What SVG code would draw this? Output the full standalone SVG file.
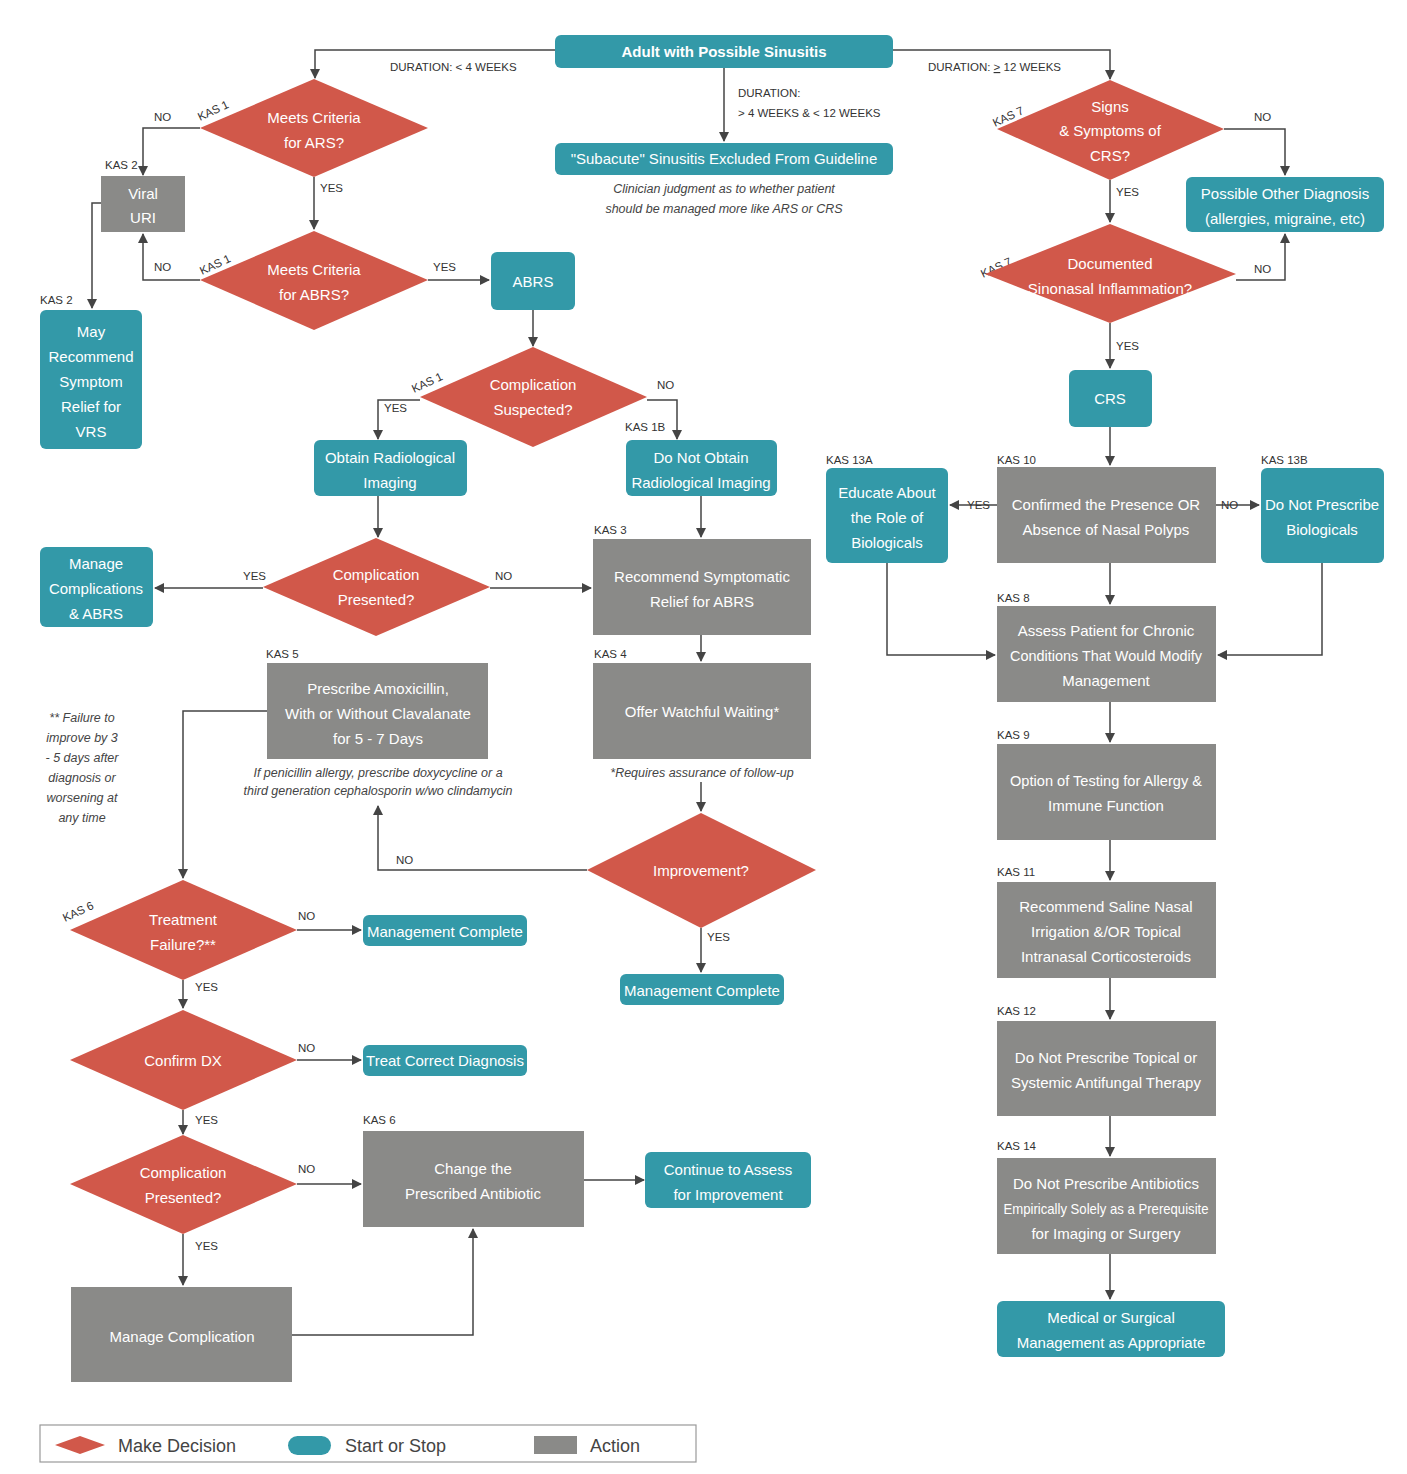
<svg xmlns="http://www.w3.org/2000/svg" width="1407" height="1474" viewBox="0 0 1407 1474">
<defs>
<marker id="ah" markerWidth="10" markerHeight="10" refX="9" refY="5" orient="auto" markerUnits="userSpaceOnUse"><path d="M0,0 L10,5 L0,10 Z" fill="#444"/></marker>
<style>
.d{fill:#d1584a}.t{fill:#3399a8}.g{fill:#8a8a88}
.nt{font-family:"Liberation Sans",Arial,sans-serif;font-size:15px;fill:#fff;text-anchor:middle}
.lb{font-family:"Liberation Sans",Arial,sans-serif;font-size:11.5px;fill:#333}
.it{font-family:"Liberation Sans",Arial,sans-serif;font-size:12.5px;fill:#444;font-style:italic;text-anchor:middle}
.c{fill:none;stroke:#444;stroke-width:1.5;marker-end:url(#ah)}
.lg{font-family:"Liberation Sans",Arial,sans-serif;font-size:18px;fill:#444}
</style>
</defs>
<rect width="1407" height="1474" fill="#fff"/>
<g id="connectors">
<path class="c" d="M555,50 H315 V78"/>
<path class="c" d="M893,50 H1110 V79"/>
<path class="c" d="M724,68 V141"/>
<path class="c" d="M200,128 H143 V175"/>
<path class="c" d="M314,177 V229"/>
<path class="c" d="M200,280 H143 V234"/>
<path class="c" d="M428,280 H489"/>
<path class="c" d="M101,203 H92 V308"/>
<path class="c" d="M533,310 V346"/>
<path class="c" d="M420,400 H378 V439"/>
<path class="c" d="M647,400 H677 V439"/>
<path class="c" d="M378,496 V537"/>
<path class="c" d="M263,588 H155"/>
<path class="c" d="M490,588 H591"/>
<path class="c" d="M701,496 V537"/>
<path class="c" d="M701,635 V661"/>
<path class="c" d="M701,782 V811"/>
<path class="c" d="M587,870 H378 V806"/>
<path class="c" d="M701,928 V972"/>
<path class="c" d="M267,711 H183 V878"/>
<path class="c" d="M297,930 H361"/>
<path class="c" d="M183,980 V1008"/>
<path class="c" d="M297,1060 H361"/>
<path class="c" d="M183,1110 V1134"/>
<path class="c" d="M297,1184 H361"/>
<path class="c" d="M584,1180 H644"/>
<path class="c" d="M183,1234 V1285"/>
<path class="c" d="M292,1335 H473 V1229"/>
<path class="c" d="M1224,129 H1285 V175"/>
<path class="c" d="M1110,180 V222"/>
<path class="c" d="M1236,280 H1285 V234"/>
<path class="c" d="M1110,323 V368"/>
<path class="c" d="M1110,427 V465"/>
<path class="c" d="M997,505 H950"/>
<path class="c" d="M1216,505 H1259"/>
<path class="c" d="M1110,563 V604"/>
<path class="c" d="M887,563 V655 H995"/>
<path class="c" d="M1322,563 V655 H1218"/>
<path class="c" d="M1110,702 V742"/>
<path class="c" d="M1110,840 V880"/>
<path class="c" d="M1110,978 V1019"/>
<path class="c" d="M1110,1116 V1156"/>
<path class="c" d="M1110,1254 V1299"/>
</g>
<g id="labels">
<text class="lb" x="390" y="71">DURATION: &lt; 4 WEEKS</text>
<text class="lb" x="928" y="71">DURATION: <tspan text-decoration="underline">&gt;</tspan> 12 WEEKS</text>
<text class="lb" x="738" y="97">DURATION:</text>
<text class="lb" x="738" y="117">&gt; 4 WEEKS &amp; &lt; 12 WEEKS</text>
<text class="lb" x="154" y="121">NO</text>
<text class="lb" x="200" y="121" transform="rotate(-25 200 121)">KAS 1</text>
<text class="lb" x="105" y="169">KAS 2</text>
<text class="lb" x="320" y="192">YES</text>
<text class="lb" x="154" y="271">NO</text>
<text class="lb" x="202" y="275" transform="rotate(-25 202 275)">KAS 1</text>
<text class="lb" x="433" y="271">YES</text>
<text class="lb" x="40" y="304">KAS 2</text>
<text class="lb" x="414" y="393" transform="rotate(-25 414 393)">KAS 1</text>
<text class="lb" x="384" y="412">YES</text>
<text class="lb" x="657" y="389">NO</text>
<text class="lb" x="625" y="431">KAS 1B</text>
<text class="lb" x="243" y="580">YES</text>
<text class="lb" x="495" y="580">NO</text>
<text class="lb" x="594" y="534">KAS 3</text>
<text class="lb" x="594" y="658">KAS 4</text>
<text class="lb" x="266" y="658">KAS 5</text>
<text class="lb" x="396" y="864">NO</text>
<text class="lb" x="707" y="941">YES</text>
<text class="lb" x="65" y="922" transform="rotate(-25 65 922)">KAS 6</text>
<text class="lb" x="298" y="920">NO</text>
<text class="lb" x="195" y="991">YES</text>
<text class="lb" x="298" y="1052">NO</text>
<text class="lb" x="195" y="1124">YES</text>
<text class="lb" x="298" y="1173">NO</text>
<text class="lb" x="363" y="1124">KAS 6</text>
<text class="lb" x="195" y="1250">YES</text>
<text class="lb" x="995" y="127" transform="rotate(-25 995 127)">KAS 7</text>
<text class="lb" x="1254" y="121">NO</text>
<text class="lb" x="1116" y="196">YES</text>
<text class="lb" x="983" y="278" transform="rotate(-25 983 278)">KAS 7</text>
<text class="lb" x="1254" y="273">NO</text>
<text class="lb" x="1116" y="350">YES</text>
<text class="lb" x="997" y="464">KAS 10</text>
<text class="lb" x="826" y="464">KAS 13A</text>
<text class="lb" x="1261" y="464">KAS 13B</text>
<text class="lb" x="967" y="509">YES</text>
<text class="lb" x="1221" y="509">NO</text>
<text class="lb" x="997" y="602">KAS 8</text>
<text class="lb" x="997" y="739">KAS 9</text>
<text class="lb" x="997" y="876">KAS 11</text>
<text class="lb" x="997" y="1015">KAS 12</text>
<text class="lb" x="997" y="1150">KAS 14</text>
<text class="it" x="724" y="193">Clinician judgment as to whether patient</text>
<text class="it" x="724" y="213">should be managed more like ARS or CRS</text>
<text class="it" x="702" y="777">*Requires assurance of follow-up</text>
<text class="it" x="378" y="777">If penicillin allergy, prescribe doxycycline or a</text>
<text class="it" x="378" y="795">third generation cephalosporin w/wo clindamycin</text>
<text class="it" x="82" y="722">** Failure to</text>
<text class="it" x="82" y="742">improve by 3</text>
<text class="it" x="82" y="762">- 5 days after</text>
<text class="it" x="82" y="782">diagnosis or</text>
<text class="it" x="82" y="802">worsening at</text>
<text class="it" x="82" y="822">any time</text>
</g>
<g id="start"><rect class="t" x="555" y="35" width="338" height="33" rx="6"/><text class="nt" x="724" y="57" font-weight="bold">Adult with Possible Sinusitis</text></g>
<g id="subacute"><rect class="t" x="555" y="143" width="338" height="32" rx="6"/><text class="nt" x="724" y="164">"Subacute" Sinusitis Excluded From Guideline</text></g>
<g id="ars"><polygon class="d" points="314,79 428,128 314,177 200,128"/><text class="nt" x="314" y="123">Meets Criteria</text><text class="nt" x="314" y="148">for ARS?</text></g>
<g id="viraluri"><rect class="g" x="101" y="176" width="84" height="56"/><text class="nt" x="143" y="199">Viral</text><text class="nt" x="143" y="223">URI</text></g>
<g id="abrsq"><polygon class="d" points="314,231 428,280 314,330 200,280"/><text class="nt" x="314" y="275">Meets Criteria</text><text class="nt" x="314" y="300">for ABRS?</text></g>
<g id="mayrec"><rect class="t" x="40" y="310" width="102" height="139" rx="6"/><text class="nt" x="91" y="337">May</text><text class="nt" x="91" y="362">Recommend</text><text class="nt" x="91" y="387">Symptom</text><text class="nt" x="91" y="412">Relief for</text><text class="nt" x="91" y="437">VRS</text></g>
<g id="abrs"><rect class="t" x="491" y="252" width="84" height="58" rx="6"/><text class="nt" x="533" y="287">ABRS</text></g>
<g id="compsusp"><polygon class="d" points="533,347 647,397 533,447 420,397"/><text class="nt" x="533" y="390">Complication</text><text class="nt" x="533" y="415">Suspected?</text></g>
<g id="obtain"><rect class="t" x="314" y="440" width="153" height="56" rx="6"/><text class="nt" x="390" y="463">Obtain Radiological</text><text class="nt" x="390" y="488">Imaging</text></g>
<g id="donotobtain"><rect class="t" x="626" y="440" width="151" height="56" rx="6"/><text class="nt" x="701" y="463">Do Not Obtain</text><text class="nt" x="701" y="488">Radiological Imaging</text></g>
<g id="comppres1"><polygon class="d" points="376,538 490,587 376,636 263,587"/><text class="nt" x="376" y="580">Complication</text><text class="nt" x="376" y="605">Presented?</text></g>
<g id="managecomp"><rect class="t" x="40" y="547" width="113" height="80" rx="6"/><text class="nt" x="96" y="569">Manage</text><text class="nt" x="96" y="594">Complications</text><text class="nt" x="96" y="619">&amp; ABRS</text></g>
<g id="recsymp"><rect class="g" x="593" y="539" width="218" height="96"/><text class="nt" x="702" y="582">Recommend Symptomatic</text><text class="nt" x="702" y="607">Relief for ABRS</text></g>
<g id="watchful"><rect class="g" x="593" y="663" width="218" height="96"/><text class="nt" x="702" y="717">Offer Watchful Waiting*</text></g>
<g id="amox"><rect class="g" x="267" y="663" width="221" height="96"/><text class="nt" x="378" y="694">Prescribe Amoxicillin,</text><text class="nt" x="378" y="719">With or Without Clavalanate</text><text class="nt" x="378" y="744">for 5 - 7 Days</text></g>
<g id="improvement"><polygon class="d" points="701,813 816,870 701,928 587,870"/><text class="nt" x="701" y="876">Improvement?</text></g>
<g id="mc2"><rect class="t" x="620" y="974" width="164" height="31" rx="6"/><text class="nt" x="702" y="996">Management Complete</text></g>
<g id="txfail"><polygon class="d" points="183,880 297,930 183,980 70,930"/><text class="nt" x="183" y="925">Treatment</text><text class="nt" x="183" y="950">Failure?**</text></g>
<g id="mc1"><rect class="t" x="363" y="915" width="164" height="31" rx="6"/><text class="nt" x="445" y="937">Management Complete</text></g>
<g id="confirmdx"><polygon class="d" points="183,1010 297,1060 183,1110 70,1060"/><text class="nt" x="183" y="1066">Confirm DX</text></g>
<g id="treatcorrect"><rect class="t" x="363" y="1045" width="164" height="31" rx="6"/><text class="nt" x="445" y="1066">Treat Correct Diagnosis</text></g>
<g id="comppres2"><polygon class="d" points="183,1135 297,1184 183,1234 70,1184"/><text class="nt" x="183" y="1178">Complication</text><text class="nt" x="183" y="1203">Presented?</text></g>
<g id="change"><rect class="g" x="363" y="1131" width="221" height="96"/><text class="nt" x="473" y="1174">Change the</text><text class="nt" x="473" y="1199">Prescribed Antibiotic</text></g>
<g id="continue"><rect class="t" x="645" y="1152" width="166" height="56" rx="6"/><text class="nt" x="728" y="1175">Continue to Assess</text><text class="nt" x="728" y="1200">for Improvement</text></g>
<g id="managecomplication"><rect class="g" x="71" y="1287" width="221" height="95"/><text class="nt" x="182" y="1342">Manage Complication</text></g>
<g id="crsq"><polygon class="d" points="1110,80 1224,129 1110,180 997,129"/><text class="nt" x="1110" y="112">Signs</text><text class="nt" x="1110" y="136">&amp; Symptoms of</text><text class="nt" x="1110" y="161">CRS?</text></g>
<g id="otherdx"><rect class="t" x="1186" y="177" width="198" height="55" rx="6"/><text class="nt" x="1285" y="199">Possible Other Diagnosis</text><text class="nt" x="1285" y="224">(allergies, migraine, etc)</text></g>
<g id="documented"><polygon class="d" points="1110,224 1236,274 1110,323 985,274"/><text class="nt" x="1110" y="269">Documented</text><text class="nt" x="1110" y="294">Sinonasal Inflammation?</text></g>
<g id="crs"><rect class="t" x="1069" y="370" width="83" height="57" rx="6"/><text class="nt" x="1110" y="404">CRS</text></g>
<g id="polyps"><rect class="g" x="997" y="467" width="219" height="96"/><text class="nt" x="1106" y="510">Confirmed the Presence OR</text><text class="nt" x="1106" y="535">Absence of Nasal Polyps</text></g>
<g id="educate"><rect class="t" x="826" y="468" width="122" height="95" rx="6"/><text class="nt" x="887" y="498">Educate About</text><text class="nt" x="887" y="523">the Role of</text><text class="nt" x="887" y="548">Biologicals</text></g>
<g id="nobio"><rect class="t" x="1261" y="468" width="123" height="95" rx="6"/><text class="nt" x="1322" y="510">Do Not Prescribe</text><text class="nt" x="1322" y="535">Biologicals</text></g>
<g id="assess"><rect class="g" x="997" y="606" width="219" height="96"/><text class="nt" x="1106" y="636">Assess Patient for Chronic</text><text class="nt" x="1106" y="661" textLength="192" lengthAdjust="spacingAndGlyphs">Conditions That Would Modify</text><text class="nt" x="1106" y="686">Management</text></g>
<g id="testing"><rect class="g" x="997" y="744" width="219" height="96"/><text class="nt" x="1106" y="786" textLength="192" lengthAdjust="spacingAndGlyphs">Option of Testing for Allergy &amp;</text><text class="nt" x="1106" y="811">Immune Function</text></g>
<g id="saline"><rect class="g" x="997" y="882" width="219" height="96"/><text class="nt" x="1106" y="912">Recommend Saline Nasal</text><text class="nt" x="1106" y="937">Irrigation &amp;/OR Topical</text><text class="nt" x="1106" y="962">Intranasal Corticosteroids</text></g>
<g id="antifungal"><rect class="g" x="997" y="1021" width="219" height="95"/><text class="nt" x="1106" y="1063">Do Not Prescribe Topical or</text><text class="nt" x="1106" y="1088">Systemic Antifungal Therapy</text></g>
<g id="antibiotics"><rect class="g" x="997" y="1158" width="219" height="96"/><text class="nt" x="1106" y="1189">Do Not Prescribe Antibiotics</text><text class="nt" x="1106" y="1214" textLength="205" lengthAdjust="spacingAndGlyphs">Empirically Solely as a Prerequisite</text><text class="nt" x="1106" y="1239">for Imaging or Surgery</text></g>
<g id="medical"><rect class="t" x="997" y="1301" width="228" height="56" rx="6"/><text class="nt" x="1111" y="1323">Medical or Surgical</text><text class="nt" x="1111" y="1348">Management as Appropriate</text></g>
<g id="legend">
<rect x="40" y="1425" width="656" height="37" fill="#fff" stroke="#999" stroke-width="1.2"/>
<polygon class="d" points="55,1445 80,1436 105,1445 80,1454"/>
<text class="lg" x="118" y="1452">Make Decision</text>
<rect class="t" x="288" y="1436" width="43" height="19" rx="9.5"/>
<text class="lg" x="345" y="1452">Start or Stop</text>
<rect class="g" x="534" y="1436" width="43" height="18"/>
<text class="lg" x="590" y="1452">Action</text>
</g>
</svg>
